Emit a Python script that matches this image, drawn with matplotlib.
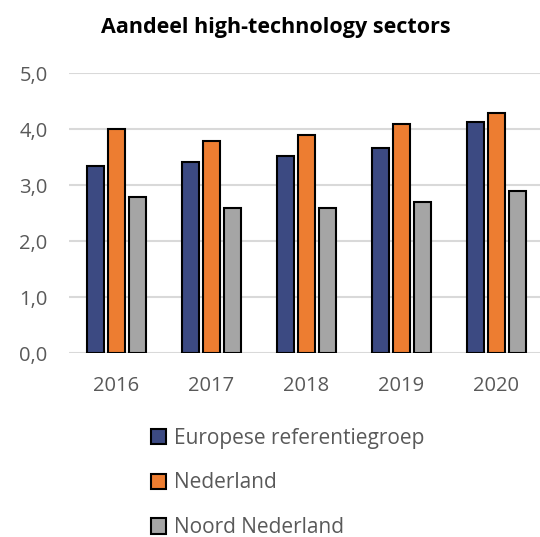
import matplotlib
matplotlib.use("Agg")
import matplotlib.pyplot as plt
import numpy as np
from matplotlib.patches import Patch

years = ["2016", "2017", "2018", "2019", "2020"]
series_names = ["Europese referentiegroep", "Nederland", "Noord Nederland"]
europese = [3.34, 3.42, 3.53, 3.67, 4.13]
nederland = [4.0, 3.8, 3.9, 4.1, 4.3]
noord = [2.8, 2.6, 2.6, 2.7, 2.9]
yticks = [0, 1, 2, 3, 4, 5]
title = "Aandeel high-technology sectors"

colors = ["#3C4A82", "#ED7D31", "#A5A5A5"]
plt.rcParams['font.family'] = ['Open Sans', 'DejaVu Sans']

W, H = 540, 537
fig = plt.figure(figsize=(W / 100, H / 100), dpi=100)
x0, x1 = 68.5, 540
y0, y1 = 353.3, 73.3
ax = fig.add_axes([x0 / W, 1 - y0 / H, (x1 - x0) / W, (y0 - y1) / H])

x = np.arange(len(years))
bw = 17 / 95
off = 21 / 95
for i, (vals, c) in enumerate(zip([europese, nederland, noord], colors)):
    ax.bar(x + (i - 1) * off, vals, width=bw, color=c, edgecolor="black",
           linewidth=1.5, zorder=3)

ax.set_xlim(-0.5, 4.5 - (543.5 - 540) / 95)
ax.set_ylim(0, 5)
ax.set_yticks(yticks)
ax.set_yticklabels([f"{v:.1f}".replace(".", ",") for v in yticks])
ax.set_xticks(x)
ax.set_xticklabels(years)
ax.grid(axis="y", color="#D9D9D9", linewidth=1.5, zorder=0)
ax.set_axisbelow(True)
for s in ax.spines.values():
    s.set_visible(False)
ax.tick_params(axis="both", length=0, colors="#595959", labelsize=14.5)
ax.tick_params(axis="y", pad=15)
ax.tick_params(axis="x", pad=16.5)

fig.text(276 / W, 1 - 27 / H, title, ha="center", va="center",
         fontsize=15.5, fontweight="bold", color="black")

handles = [Patch(facecolor=c, edgecolor="black", linewidth=1.5) for c in colors]
leg = fig.legend(handles, series_names, loc="upper left",
                 bbox_to_anchor=(132 / W, 1 - 409 / H), frameon=False,
                 fontsize=15, handlelength=0.75, handleheight=0.75,
                 handletextpad=0.35, labelspacing=1.14, labelcolor="#595959")

fig.savefig("out.png", dpi=100)
